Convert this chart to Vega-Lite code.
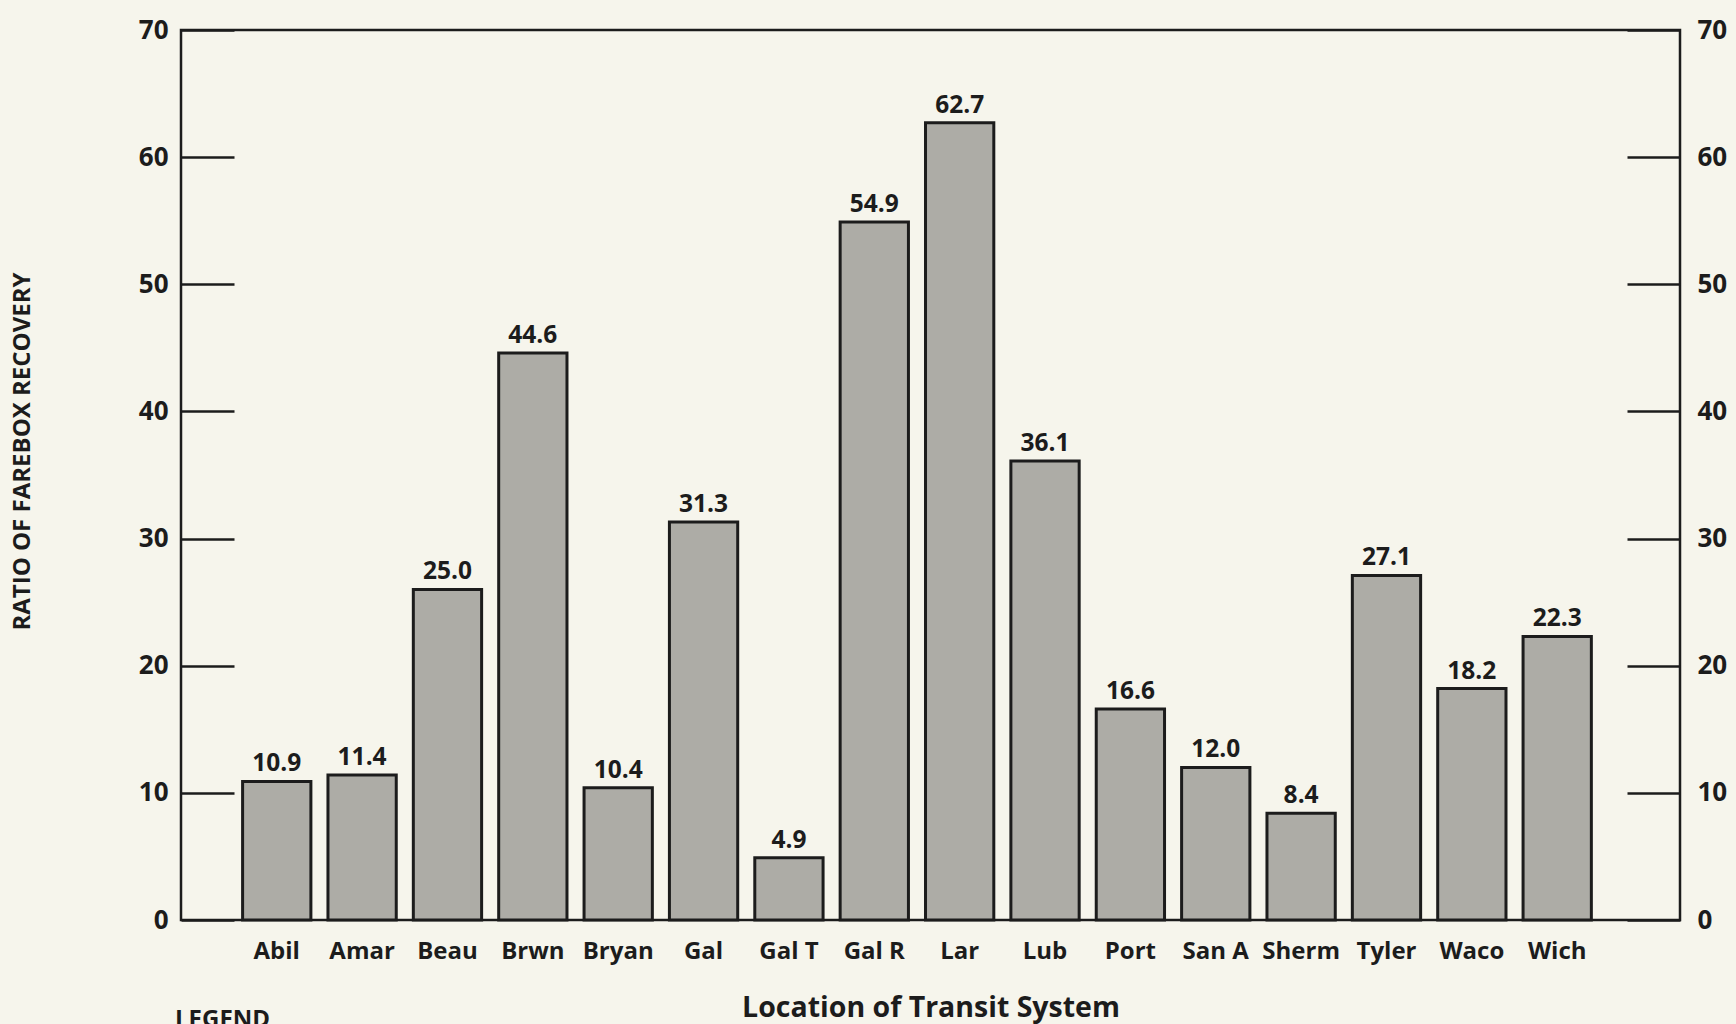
{
  "$schema": "https://vega.github.io/schema/vega-lite/v6.json",
  "width": 1499,
  "height": 890,
  "autosize": "none",
  "padding": {"left": 181, "top": 30, "right": 56, "bottom": 104},
  "background": "#f6f5ec",
  "config": {
    "font": "Open Sans",
    "view": {"stroke": "#1c1c1c", "strokeWidth": 2.5}
  },
  "data": {
    "values": [
      {"system": "Abil", "bar": 10.9, "label": "10.9"},
      {"system": "Amar", "bar": 11.4, "label": "11.4"},
      {"system": "Beau", "bar": 26.0, "label": "25.0"},
      {"system": "Brwn", "bar": 44.6, "label": "44.6"},
      {"system": "Bryan", "bar": 10.4, "label": "10.4"},
      {"system": "Gal", "bar": 31.3, "label": "31.3"},
      {"system": "Gal T", "bar": 4.9, "label": "4.9"},
      {"system": "Gal R", "bar": 54.9, "label": "54.9"},
      {"system": "Lar", "bar": 62.7, "label": "62.7"},
      {"system": "Lub", "bar": 36.1, "label": "36.1"},
      {"system": "Port", "bar": 16.6, "label": "16.6"},
      {"system": "San A", "bar": 12.0, "label": "12.0"},
      {"system": "Sherm", "bar": 8.4, "label": "8.4"},
      {"system": "Tyler", "bar": 27.1, "label": "27.1"},
      {"system": "Waco", "bar": 18.2, "label": "18.2"},
      {"system": "Wich", "bar": 22.3, "label": "22.3"}
    ]
  },
  "encoding": {
    "x": {
      "field": "system",
      "type": "nominal",
      "sort": null,
      "scale": {"paddingInner": 0.2, "paddingOuter": 0.88, "align": 0.41},
      "axis": {
        "title": "Location of Transit System",
        "titleFontSize": 28.5,
        "titleFontWeight": "bold",
        "titleColor": "#1c1c1c",
        "titlePadding": 30,
        "labelAngle": 0,
        "labelFontSize": 24,
        "labelFontWeight": "bold",
        "labelColor": "#1c1c1c",
        "labelPadding": 19,
        "ticks": false,
        "tickSize": 0,
        "domain": false,
        "grid": false
      }
    }
  },
  "layer": [
    {
      "mark": {"type": "bar", "fill": "#adaca6", "stroke": "#1c1c1c", "strokeWidth": 3},
      "encoding": {
        "y": {
          "field": "bar",
          "type": "quantitative",
          "scale": {"domain": [0, 70], "nice": false},
          "axis": {
            "orient": "left",
            "values": [0, 10, 20, 30, 40, 50, 60, 70],
            "offset": -53,
            "tickSize": 53,
            "tickWidth": 2.5,
            "tickColor": "#1c1c1c",
            "domain": false,
            "grid": false,
            "labelFontSize": 26,
            "labelFontWeight": "bold",
            "labelColor": "#1c1c1c",
            "labelPadding": 13,
            "title": "RATIO OF FAREBOX RECOVERY",
            "titleFontSize": 24,
            "titleFontWeight": "bold",
            "titleColor": "#1c1c1c",
            "titleAngle": -90,
            "titleBaseline": "middle",
            "titleAlign": "center",
            "titleX": -212,
            "titleY": 421
          }
        }
      }
    },
    {
      "mark": {"type": "text", "baseline": "alphabetic", "dy": -10, "fontSize": 24.5, "fontWeight": "bold", "color": "#1c1c1c"},
      "encoding": {
        "y": {
          "field": "bar",
          "type": "quantitative",
          "scale": {"domain": [0, 70], "nice": false},
          "axis": {
            "orient": "right",
            "values": [0, 10, 20, 30, 40, 50, 60, 70],
            "offset": -53,
            "tickSize": 53,
            "tickWidth": 2.5,
            "tickColor": "#1c1c1c",
            "domain": false,
            "grid": false,
            "labelFontSize": 26,
            "labelFontWeight": "bold",
            "labelColor": "#1c1c1c",
            "labelPadding": 17,
            "title": null
          }
        },
        "text": {"field": "label", "type": "nominal"}
      }
    }
  ],
  "resolve": {"axis": {"y": "independent"}},
  "title": {
    "text": "LEGEND",
    "orient": "bottom",
    "anchor": "start",
    "frame": "group",
    "offset": -14,
    "dx": -6,
    "fontSize": 24,
    "fontWeight": "bold",
    "color": "#1c1c1c"
  }
}
